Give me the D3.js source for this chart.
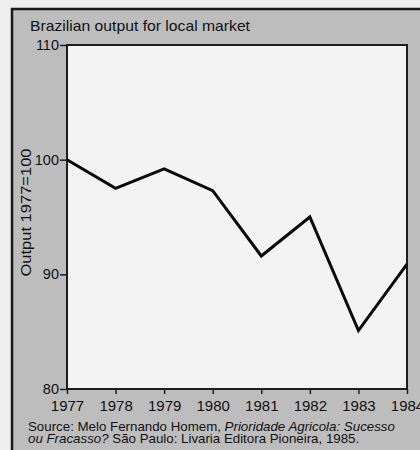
<!DOCTYPE html>
<html><head><meta charset="utf-8">
<script src="https://cdn.jsdelivr.net/npm/d3@7"></script>
<style>html,body{margin:0;padding:0;background:#eeeeee;overflow:hidden}svg{display:block}</style>
</head><body>
<script>
const years = [1977, 1978, 1979, 1980, 1981, 1982, 1983, 1984];
const output = [100, 97.5, 99.2, 97.3, 91.6, 95.0, 85.1, 90.9];
const yTicks = [80, 90, 100, 110];
const title = "Brazilian output for local market";
const yLabel = "Output 1977=100";

const W = 420, H = 450;
const svg = d3.select("body").append("svg").attr("width", W).attr("height", H)
  .style("font-family", "'Liberation Sans', Arial, sans-serif");

// outer frame panel
svg.append("rect").attr("x", 12).attr("y", 9).attr("width", 420).attr("height", 460)
  .attr("fill", "#bdbdbd").attr("stroke", "#1a1a1a").attr("stroke-width", 2.5);

const x = d3.scaleLinear().domain([1977, 1984]).range([67, 407]);
const y = d3.scaleLinear().domain([80, 110]).range([389, 45]);

// plot area
svg.append("rect").attr("x", x(1977)).attr("y", y(110))
  .attr("width", x(1984) - x(1977)).attr("height", y(80) - y(110))
  .attr("fill", "#f3f3f3").attr("stroke", "#1e1e1e").attr("stroke-width", 2);

const xAxis = svg.append("g").attr("transform", `translate(0,${y(80)})`)
  .call(d3.axisBottom(x).tickValues(years).tickFormat(d3.format("d")).tickSize(5).tickSizeOuter(0).tickPadding(6));
xAxis.select(".domain").remove();
xAxis.selectAll("line").attr("stroke", "#1e1e1e").attr("stroke-width", 1.5);
xAxis.selectAll("text").attr("font-size", 15).attr("fill", "#111");

const yAxis = svg.append("g").attr("transform", `translate(${x(1977)},0)`)
  .call(d3.axisLeft(y).tickValues(yTicks).tickSize(7).tickSizeOuter(0).tickPadding(1));
yAxis.select(".domain").remove();
yAxis.selectAll("line").attr("stroke", "#1e1e1e").attr("stroke-width", 1.5);
yAxis.selectAll("text").attr("font-size", 14.5).attr("fill", "#111");

const line = d3.line().x((d, i) => x(years[i])).y(d => y(d));
svg.append("path").datum(output).attr("d", line)
  .attr("fill", "none").attr("stroke", "#0a0a0a").attr("stroke-width", 3)
  .attr("stroke-linejoin", "miter");

svg.append("text").attr("x", 30).attr("y", 31).attr("font-size", 15).attr("fill", "#111")
  .attr("textLength", 220).attr("lengthAdjust", "spacingAndGlyphs").text(title);

svg.append("text").attr("transform", `translate(31,212.5) rotate(-90)`)
  .attr("text-anchor", "middle").attr("font-size", 15).attr("fill", "#111")
  .attr("textLength", 128).attr("lengthAdjust", "spacingAndGlyphs").text(yLabel);

const src = svg.append("text").attr("transform", "translate(28,431) scale(1.11,1)")
  .attr("font-size", 12).attr("fill", "#111");
src.append("tspan").text("Source: Melo Fernando Homem, ");
src.append("tspan").attr("font-style", "italic").text("Prioridade Agricola: Sucesso");
const src2 = svg.append("text").attr("transform", "translate(28,443) scale(1.11,1)")
  .attr("font-size", 12).attr("fill", "#111");
src2.append("tspan").attr("font-style", "italic").text("ou Fracasso?");
src2.append("tspan").text("  São Paulo: Livaria Editora Pioneira, 1985.");
</script>
</body></html>
